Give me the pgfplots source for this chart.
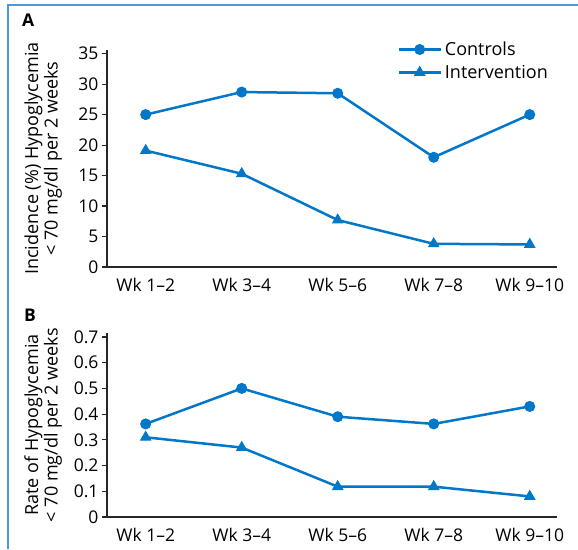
\documentclass[border=0pt]{standalone}
\usepackage{fontspec}
\setmainfont{Open Sans}
\usepackage{pgfplots}
\pgfplotsset{compat=1.18}
\definecolor{cblue}{HTML}{0077C8}
\definecolor{fblue}{HTML}{4A9AD8}
\pgfplotsset{
  myaxis/.style={
    scale only axis, width=450pt,
    xmin=-0.403, xmax=4.284, ymin=0,
    axis x line*=bottom, axis y line*=left,
    axis line style={-, line width=1.3pt, black!85},
    xtick={0,1,2,3,4},
    xticklabels={Wk 1--2,Wk 3--4,Wk 5--6,Wk 7--8,Wk 9--10},
    xtick style={draw=none},
    xticklabel style={yshift=-3pt},
    ytick style={line width=1.1pt, black!85},
    tick align=outside, major tick length=5pt,
    /pgf/number format/assume math mode=true,
    tick label style={font=\fontsize{17.5}{20}\selectfont, black},
    ylabel style={at={(axis description cs:-0.142,0.5)}, anchor=center, align=center, font=\fontsize{18}{19.5}\selectfont},
    every axis plot/.append style={cblue, line width=2.5pt},
  },
  ctrl/.style={mark=*, mark size=5pt, mark options={solid, line width=1pt}},
  intv/.style={mark=triangle*, mark size=5.8pt, mark options={solid, line width=1pt}},
}
\begin{document}
\begin{tikzpicture}[x=1pt,y=1pt]
\useasboundingbox (0,0) rectangle (578,549);
\draw[fblue, line width=1.8pt] (8,0) -- (8,544) -- (578,544);
\node[anchor=base west, font=\fontsize{17.5}{20}\selectfont\bfseries, inner sep=0] at (22,522) {A};
\node[anchor=base west, font=\fontsize{17.5}{20}\selectfont\bfseries, inner sep=0] at (24,227) {B};

\begin{axis}[myaxis, at={(107pt,282pt)}, anchor=south west,
  height=217pt, ymax=35.6, ytick={0,5,...,35},
  ylabel={Incidence (\%) Hypoglycemia\\< 70 mg/dl per 2 weeks},
  legend style={draw=none, fill=none, at={(axis description cs:0.645,1.052)}, anchor=north west,
    font=\fontsize{18}{21}\selectfont, row sep=2pt, inner sep=0pt, nodes={inner sep=3pt}},
  legend cell align=left,
  legend image code/.code={\draw[mark repeat=2,mark phase=2,#1] plot coordinates {(0pt,0pt) (21pt,0pt) (42pt,0pt)};},
]
\addplot[ctrl] coordinates {(0,25) (1,28.7) (2,28.5) (3,18) (4,25)};
\addlegendentry{Controls}
\addplot[intv] coordinates {(0,19.1) (1,15.3) (2,7.7) (3,3.8) (4,3.7)};
\addlegendentry{Intervention}
\end{axis}

\begin{axis}[myaxis, at={(107pt,32pt)}, anchor=south west,
  height=184pt, ymax=0.7155, ytick={0,0.1,...,0.7},
  yticklabel style={/pgf/number format/fixed, /pgf/number format/precision=1},
  ylabel={Rate of Hypoglycemia\\< 70 mg/dl per 2 weeks},
]
\addplot[ctrl] coordinates {(0,0.362) (1,0.50) (2,0.39) (3,0.362) (4,0.43)};
\addplot[intv] coordinates {(0,0.31) (1,0.27) (2,0.118) (3,0.118) (4,0.08)};
\end{axis}
\end{tikzpicture}
\end{document}
